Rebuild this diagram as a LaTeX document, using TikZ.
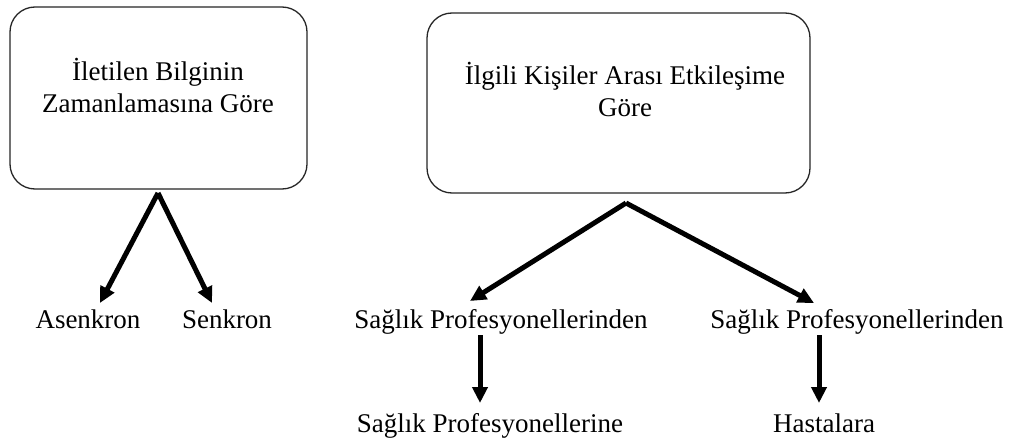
\documentclass[tikz,border=0pt]{standalone}
\usepackage{fontspec}
\setmainfont{Liberation Serif}
\usetikzlibrary{arrows.meta}
\tikzset{
  catbox/.style={draw=black!85, line width=1.3pt, rounded corners=25pt, fill=white},
  lbl/.style={font=\fontsize{27}{32}\selectfont, inner sep=0pt, anchor=base},
  boxtxt/.style={font=\fontsize{27}{32}\selectfont, inner sep=0pt, anchor=base},
  arr/.style={line width=5pt, -{Triangle[length=16pt,width=15pt]}},
}
\begin{document}
\begin{tikzpicture}[x=1pt,y=-1pt]
\useasboundingbox (0,0) rectangle (1011,441);
% boxes
\draw[catbox] (10,7) rectangle (307,189);
\draw[catbox] (427,13) rectangle (810,193);
\node[boxtxt] (t1a) at (158,81) {İletilen Bilginin};
\node[boxtxt] (t1b) at (158,113) {Zamanlamasına Göre};
\node[boxtxt] (t2a) at (625,85) {İlgili Kişiler Arası Etkileşime};
\node[boxtxt] (t2b) at (625,117) {Göre};
\coordinate (a1) at (158,193);
\coordinate (a2) at (626,203);
% labels
\node[lbl] (asen) at (88,328) {Asenkron};
\node[lbl] (senk) at (227,328) {Senkron};
\node[lbl] (sp1) at (501,328) {Sağlık Profesyonellerinden};
\node[lbl] (sp2) at (857,328) {Sağlık Profesyonellerinden};
\node[lbl] (spe) at (490,432) {Sağlık Profesyonellerine};
\node[lbl] (has) at (824,432) {Hastalara};
\coordinate (v1s) at (480,335);
\coordinate (v2s) at (819,335);
% arrows
\draw[arr] (a1) -- (100,303);
\draw[arr] (a1) -- (212,303);
\draw[arr] (a2) -- (470,301);
\draw[arr] (a2) -- (814,303);
\draw[arr] (v1s) -- (480,403);
\draw[arr] (v2s) -- (819,403);
\end{tikzpicture}
\end{document}
